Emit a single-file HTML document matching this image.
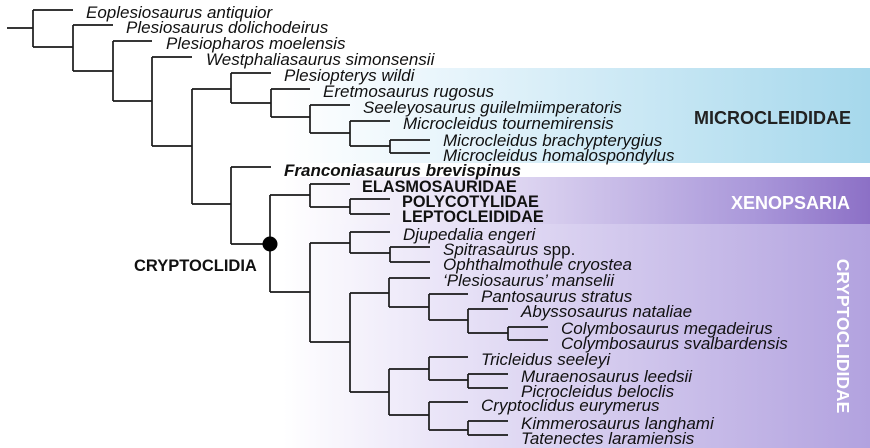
<!DOCTYPE html>
<html><head><meta charset="utf-8"><style>
html,body{margin:0;padding:0;background:#fff;}
svg{display:block;}
text{font-family:"Liberation Sans",Arial,sans-serif;}
.t{font-style:italic;font-size:17px;fill:#111;}
.b{font-weight:bold;font-size:16.3px;fill:#111;}
</style></head><body>
<svg width="870" height="448" viewBox="0 0 870 448" xmlns="http://www.w3.org/2000/svg">
<defs>
<linearGradient id="gb" x1="0" x2="1" y1="0" y2="0"><stop offset="0" stop-color="#fff"/><stop offset="0.3" stop-color="#e6f4fb"/><stop offset="1" stop-color="#a6d8ec"/></linearGradient>
<linearGradient id="gx" x1="0" x2="1" y1="0" y2="0"><stop offset="0" stop-color="#fff"/><stop offset="0.35" stop-color="#e4ddf4"/><stop offset="0.8" stop-color="#aa98da"/><stop offset="1" stop-color="#8c70c6"/></linearGradient>
<linearGradient id="gc" x1="0" x2="1" y1="0" y2="0"><stop offset="0" stop-color="#fff"/><stop offset="0.25" stop-color="#ebe6f8"/><stop offset="1" stop-color="#b2a2df"/></linearGradient>
</defs>
<rect x="283" y="68" width="587" height="95" fill="url(#gb)"/>
<rect x="283" y="177" width="587" height="47" fill="url(#gx)"/>
<rect x="283" y="224" width="587" height="224" fill="url(#gc)"/>
<g stroke="#1a1a1a" stroke-width="1.7" fill="none">
<path d="M7 28H33M33 10V47M33 10H73M33 47H73M73 25V71M73 25H113M73 71H113M113 41V101M113 41H152M113 101H152M152 57V146M152 57H192M152 146H192M192 89V204M192 89H231M192 204H231"/>
<path d="M231 73V103M231 73H271M231 103H271M271 89V117M271 89H310M271 117H310M310 105V133M310 105H350M310 133H350M350 121V146M350 121H390M350 146H390M390 140V153M390 140H430M390 153H430"/>
<path d="M231 167V244M231 167H271M231 244H270M270 195V292M270 195H310M270 292H310M310 184V207M310 184H350M310 207H350M350 199V214M350 199H390M350 214H390"/>
<path d="M310 243V342M310 243H350M310 342H350M350 232V253M350 232H390M350 253H390M390 247V262M390 247H430M390 262H430"/>
<path d="M350 293V392M350 293H389M350 392H389M389 278V307M389 278H430M389 307H429M429 294V320M429 294H468M429 320H468M468 309V333M468 309H508M468 333H508M508 327V340M508 327H548M508 340H548"/>
<path d="M389 369V415M389 369H429M389 415H429M429 357V380M429 357H468M429 380H468M468 374V388M468 374H508M468 388H508M429 402V430M429 402H468M429 430H468M468 421V435M468 421H508M468 435H508"/>
</g>
<circle cx="270" cy="244" r="7.5" fill="#000"/>
<g class="t">
<text x="86" y="18">Eoplesiosaurus antiquior</text>
<text x="126" y="33">Plesiosaurus dolichodeirus</text>
<text x="166" y="49">Plesiopharos moelensis</text>
<text x="206" y="65">Westphaliasaurus simonsensii</text>
<text x="284" y="81">Plesiopterys wildi</text>
<text x="323" y="97">Eretmosaurus rugosus</text>
<text x="363" y="113">Seeleyosaurus guilelmiimperatoris</text>
<text x="403" y="129">Microcleidus tournemirensis</text>
<text x="443" y="146">Microcleidus brachypterygius</text>
<text x="443" y="161">Microcleidus homalospondylus</text>
<text x="284" y="176" font-weight="bold">Franconiasaurus brevispinus</text>
<text x="403" y="240">Djupedalia engeri</text>
<text x="443" y="255">Spitrasaurus <tspan font-style="normal">spp.</tspan></text>
<text x="443" y="270">Ophthalmothule cryostea</text>
<text x="443" y="286">‘Plesiosaurus’ manselii</text>
<text x="481" y="302">Pantosaurus stratus</text>
<text x="521" y="317">Abyssosaurus nataliae</text>
<text x="561" y="334">Colymbosaurus megadeirus</text>
<text x="561" y="349">Colymbosaurus svalbardensis</text>
<text x="481" y="365">Tricleidus seeleyi</text>
<text x="521" y="382">Muraenosaurus leedsii</text>
<text x="521" y="397">Picrocleidus beloclis</text>
<text x="481" y="411">Cryptoclidus eurymerus</text>
<text x="521" y="429">Kimmerosaurus langhami</text>
<text x="521" y="444">Tatenectes laramiensis</text>
</g>
<g class="b">
<text x="362" y="192">ELASMOSAURIDAE</text>
<text x="402" y="207">POLYCOTYLIDAE</text>
<text x="402" y="222">LEPTOCLEIDIDAE</text>
<text x="134" y="271" font-size="16.5">CRYPTOCLIDIA</text>
<text x="694" y="124" font-size="18" fill="#222">MICROCLEIDIDAE</text>
<text x="731" y="209" font-size="18" fill="#fff">XENOPSARIA</text>
<text x="843" y="336" font-size="17.5" fill="#fff" text-anchor="middle" transform="rotate(90 843 336)" dominant-baseline="central">CRYPTOCLIDIDAE</text>
</g>
</svg>
</body></html>
